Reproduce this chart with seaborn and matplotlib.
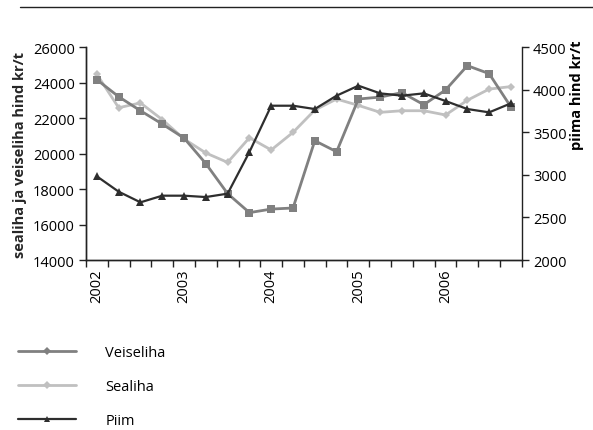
import seaborn as sns
import matplotlib.pyplot as plt
import matplotlib.lines as mlines
import numpy as np
import pandas as pd

# quarterly prices 2002-2006
quarters = list(range(20))
year_labels = ['2002', '2003', '2004', '2005', '2006']

veiseliha = [24160, 23200, 22410, 21660, 20870, 19430, 17740, 16670, 16870, 16930,
             20720, 20100, 23070, 23180, 23430, 22750, 23580, 24950, 24500, 22620]
sealiha = [24460, 22580, 22850, 21910, 20820, 20030, 19500, 20890, 20200, 21190,
           22450, 23070, 22710, 22320, 22410, 22410, 22170, 23000, 23630, 23770]
piim = [2982, 2802, 2677, 2755, 2755, 2739, 2779, 3268, 3811, 3811,
        3772, 3929, 4046, 3956, 3929, 3956, 3866, 3772, 3733, 3839]

c_veis = '#808080'
c_seal = '#c0c0c0'
c_piim = '#2e2e2e'

sns.set_style('ticks', {'text.color': 'black', 'xtick.color': 'black', 'ytick.color': 'black'})
plt.rcParams['font.family'] = ['Open Sans', 'DejaVu Sans']
plt.rcParams['font.size'] = 10.5

df = pd.DataFrame({'kvartal': quarters, 'Veiseliha': veiseliha, 'Sealiha': sealiha, 'Piim': piim})

fig = plt.figure(figsize=(5.93, 4.31), dpi=100)
ax = fig.add_axes([0.145, 0.3944, 0.735, 0.4942])
ax2 = ax.twinx()

sns.lineplot(data=df, x='kvartal', y='Sealiha', ax=ax, color=c_seal, lw=2,
             marker='D', markersize=4, markeredgewidth=0)
sns.lineplot(data=df, x='kvartal', y='Veiseliha', ax=ax, color=c_veis, lw=2,
             marker='s', markersize=6, markeredgewidth=0)
sns.lineplot(data=df, x='kvartal', y='Piim', ax=ax2, color=c_piim, lw=1.6,
             marker='^', markersize=6, markeredgewidth=0)

ax.set_xlim(-0.5, 19.5)
ax.set_ylim(14000, 26000)
ax.set_yticks(np.arange(14000, 26001, 2000))
ax2.set_ylim(2000, 4500)
ax2.set_yticks(np.arange(2000, 4501, 500))

# tick marks between quarters, year labels under first quarter
ax.set_xticks(np.arange(-0.5, 20, 1))
ax.set_xticklabels([])
ax.set_xticks([0, 4, 8, 12, 16], minor=True)
ax.set_xticklabels(year_labels, minor=True, rotation=90)
ax.tick_params(axis='x', which='minor', length=0, pad=6)
ax.tick_params(axis='x', which='major', length=5, width=1, color='#222222')
ax.tick_params(axis='y', length=5, width=1, color='#222222', pad=3)
ax2.tick_params(axis='y', length=5, width=1, color='#222222', pad=3)

for a in (ax, ax2):
    a.spines['top'].set_visible(False)
    for s in ('left', 'right', 'bottom'):
        a.spines[s].set_color('#222222')
        a.spines[s].set_linewidth(1)
ax.spines['right'].set_visible(False)

ax.set_xlabel('')
ax.set_ylabel('sealiha ja veiseliha hind kr/t', fontweight='bold', labelpad=4)
ax2.set_ylabel('')
fig.text(0.973, 0.905, 'piima hind kr/t', rotation=90, fontweight='bold',
         ha='center', va='top', fontsize=10.5)

# rule at the top of the page
fig.add_artist(mlines.Line2D([20 / 593, 1.0], [1 - 8 / 431, 1 - 8 / 431],
                             color='#222222', lw=1))

handles = [
    mlines.Line2D([], [], color=c_veis, lw=2, marker='D', markersize=4, markeredgewidth=0),
    mlines.Line2D([], [], color=c_seal, lw=2, marker='D', markersize=4, markeredgewidth=0),
    mlines.Line2D([], [], color=c_piim, lw=1.6, marker='^', markersize=4, markeredgewidth=0),
]
fig.legend(handles, ['Veiseliha', 'Sealiha', 'Piim'], loc='upper left',
           bbox_to_anchor=(0.02, 0.21), frameon=False, handlelength=4,
           handletextpad=2.0, labelspacing=1.3, fontsize=10.5, borderaxespad=0)

fig.savefig('out.png', dpi=100)
